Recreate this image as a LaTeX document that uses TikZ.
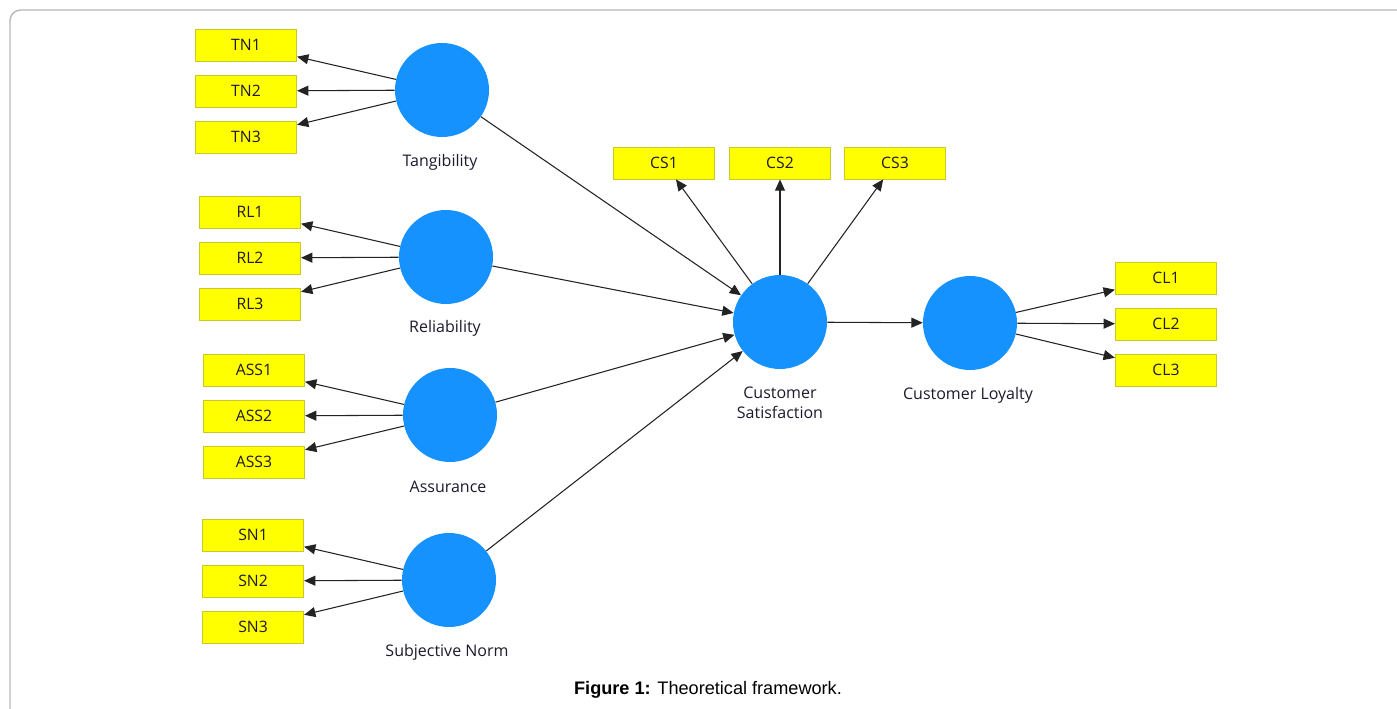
\documentclass[tikz,border=0pt]{standalone}
\usepackage{fontspec}
\setmainfont{Open Sans}
\newfontfamily\capfont{Liberation Sans}
\usetikzlibrary{arrows.meta}
\definecolor{boxyellow}{RGB}{255,255,0}
\definecolor{boxborder}{RGB}{200,200,40}
\definecolor{latblue}{RGB}{22,146,255}
\definecolor{linecol}{RGB}{35,35,35}
\definecolor{labeltext}{RGB}{30,25,45}
\definecolor{framecol}{RGB}{185,185,185}
\begin{document}
\begin{tikzpicture}[x=0.75pt,y=-0.75pt,
  ind/.style={draw=boxborder, fill=boxyellow, minimum width=76pt, minimum height=24pt, inner sep=0pt, line width=0.6pt, text=labeltext, font=\fontsize{11.8}{14}\selectfont},
  lat/.style={circle, fill=latblue, minimum size=70.5pt, inner sep=0pt},
  lbl/.style={font=\fontsize{12}{15}\selectfont, text=labeltext, align=center},
  arr/.style={draw=linecol, line width=0.8pt, -{Triangle[length=8.5pt,width=7.5pt]}}]
\useasboundingbox (0,0) rectangle (1397,709);
% frame
\draw[framecol, line width=1.1pt, rounded corners=8pt] (1397,10) -- (10,10) -- (10,709);

% latent variables
\node[lat] (tan) at (442,90) {};
\node[lat] (rel) at (446,257) {};
\node[lat] (ass) at (450,415) {};
\node[lat] (sn)  at (449,580) {};
\node[lat] (cs)  at (780,322) {};
\node[lat] (cl)  at (970,323) {};

% labels
\node[lbl] (tanL) at (440,162) {Tangibility};
\node[lbl] (relL) at (445,328) {Reliability};
\node[lbl] (assL) at (448,487) {Assurance};
\node[lbl] (snL)  at (447,652) {Subjective Norm};
\node[lbl] (csL)  at (780,403) {Customer\\Satisfaction};
\node[lbl] (clL)  at (968,395) {Customer Loyalty};

% indicators
\node[ind] (tn1) at (246,45) {TN1};
\node[ind] (tn2) at (246,91) {TN2};
\node[ind] (tn3) at (246,137) {TN3};
\node[ind] (rl1) at (250,212) {RL1};
\node[ind] (rl2) at (250,258) {RL2};
\node[ind] (rl3) at (250,304) {RL3};
\node[ind] (as1) at (254,370) {ASS1};
\node[ind] (as2) at (254,416) {ASS2};
\node[ind] (as3) at (254,462) {ASS3};
\node[ind] (sn1) at (253,535) {SN1};
\node[ind] (sn2) at (253,581) {SN2};
\node[ind] (sn3) at (253,627) {SN3};
\node[ind] (cs1) at (664,163) {CS1};
\node[ind] (cs2) at (780,163) {CS2};
\node[ind] (cs3) at (895,163) {CS3};
\node[ind] (cl1) at (1166,278) {CL1};
\node[ind] (cl2) at (1166,324) {CL2};
\node[ind] (cl3) at (1166,370) {CL3};

% reflective arrows
\foreach \l/\i in {tan/tn1,tan/tn2,tan/tn3,rel/rl1,rel/rl2,rel/rl3,ass/as1,ass/as2,ass/as3,sn/sn1,sn/sn2,sn/sn3,cs/cs1,cs/cs2,cs/cs3,cl/cl1,cl/cl2,cl/cl3}
  \draw[arr] (\l) -- (\i);

% structural paths
\foreach \l in {tan,rel,ass,sn}
  \draw[arr] (\l) -- (cs);
\draw[arr] (cs) -- (cl);

% caption
\node (cap) at (708,690) {\capfont\fontsize{13.6}{16}\selectfont\textbf{Figure 1:} Theoretical framework.};
\end{tikzpicture}
\end{document}
